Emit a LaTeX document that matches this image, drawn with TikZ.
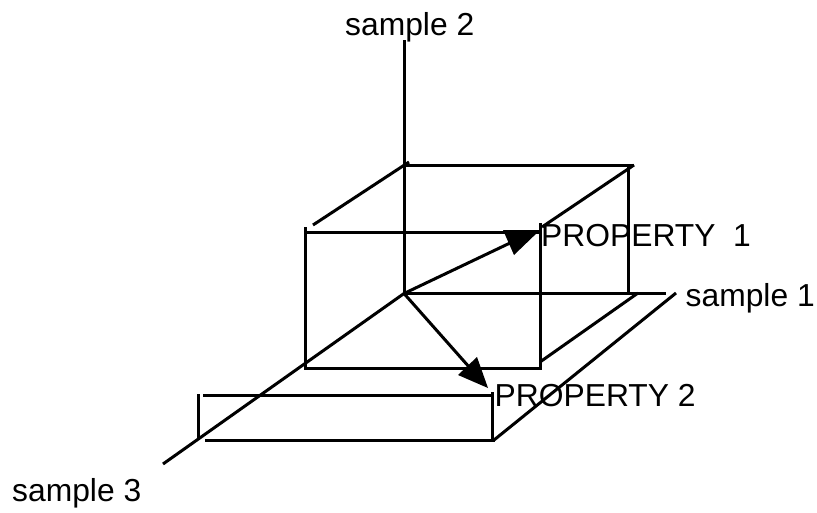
\documentclass[tikz,border=0pt]{standalone}
\usepackage{fontspec}
\setmainfont{Liberation Sans}
\begin{document}
\begin{tikzpicture}[x=1pt,y=-1pt,
  ln/.style={draw=black,line width=3pt},
  lab/.style={font=\fontsize{31.8}{36}\selectfont,inner sep=0pt,anchor=base west,text=black},
  tip/.style={fill=black,draw=none}]
\useasboundingbox (0,0) rectangle (817,512);
\coordinate (O) at (404,293.5);
\coordinate (top) at (404,40);
\coordinate (s1) at (666,293.5);
\coordinate (s3) at (163,464);
% axes
\draw[ln] (top) -- (O);
\draw[ln] (O) -- (s1);
\draw[ln] (O) -- (s3);
% cube, upper
\draw[ln] (404,165.5) -- (634,165.5);
\draw[ln] (628,165) -- (628,293);
\draw[ln] (409,162) -- (313,225);
\draw[ln] (634,165) -- (542,227);
\draw[ln] (305,227) -- (305,368) -- (540,368) -- (540,223);
\draw[ln] (305,232) -- (540,232);
\draw[ln] (540,362) -- (638,293);
% floor
\draw[ln] (676,293) -- (494,440);
\draw[ln] (205,440) -- (495,440);
\draw[ln] (203,395) -- (492,395);
\draw[ln] (198,394) -- (198,438);
\draw[ln] (492,392) -- (492,440);
% vectors
\draw[ln] (O) -- (510,243);
\draw[ln] (O) -- (470,368);
\fill[tip] (540,230) -- (503,230) -- (514,255) -- cycle;
\fill[tip] (488,388) -- (458,375) -- (477,357) -- cycle;
\node[lab] (t1) at (345,35) {sample 2};
\node[lab] (t2) at (541,246) {PROPERTY\ \ 1};
\node[lab] (t3) at (685.5,306) {sample 1};
\node[lab] (t4) at (494.5,406) {PROPERTY 2};
\node[lab] (t5) at (12,501) {sample 3};
\end{tikzpicture}
\end{document}
